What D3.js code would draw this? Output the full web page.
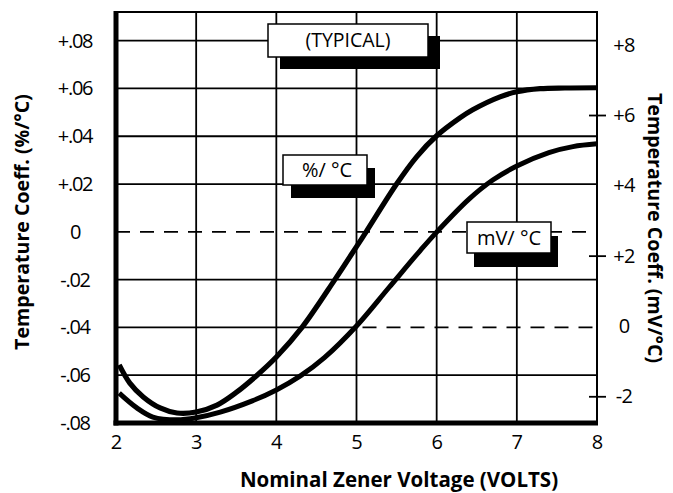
<!DOCTYPE html>
<html>
<head>
<meta charset="utf-8">
<script src="https://cdn.jsdelivr.net/npm/d3@7"></script>
<style>
  html, body { margin: 0; padding: 0; background: #fff; }
  svg { display: block; }
  text { font-family: "Open Sans", "DejaVu Sans", sans-serif; fill: #000; }
</style>
</head>
<body>
<svg id="chart" width="673" height="493"></svg>
<script>
// ---- data ----
const xTicks = [2, 3, 4, 5, 6, 7, 8];
const leftTicks = [-0.08, -0.06, -0.04, -0.02, 0, 0.02, 0.04, 0.06, 0.08];
const leftTickLabels = ["-.08", "-.06", "-.04", "-.02", "0", "+.02", "+.04", "+.06", "+.08"];
const rightTicks = [-2, 0, 2, 4, 6, 8];
const rightTickLabels = ["-2", "0", "+2", "+4", "+6", "+8"];
const rightTickMarks = [-2, 2, 6];

// %/°C curve (left axis)
const pctVolts = [2.04, 2.17, 2.34, 2.55, 2.76, 3.0, 3.26, 3.5, 3.76, 4.0, 4.32, 4.73, 5.0, 5.12, 5.5, 5.75, 6.0, 6.29, 6.45, 6.79, 7.0, 7.29, 7.6, 8.0];
const pctValues = [-0.0557, -0.0632, -0.0691, -0.0737, -0.0758, -0.0754, -0.0725, -0.0672, -0.06, -0.0524, -0.04, -0.02, -0.0062, 0.0, 0.02, 0.0314, 0.0402, 0.0477, 0.0511, 0.0565, 0.0586, 0.0599, 0.0602, 0.0603];

// mV/°C curve (right axis)
const mvVolts = [2.04, 2.26, 2.46, 2.76, 3.0, 3.3, 3.7, 4.0, 4.3, 4.6, 5.0, 5.4, 5.8, 6.0, 6.4, 6.7, 7.0, 7.4, 7.7, 8.0];
const mvValues = [-1.91, -2.33, -2.59, -2.67, -2.61, -2.45, -2.13, -1.82, -1.42, -0.9, 0.0, 1.08, 2.16, 2.67, 3.6, 4.15, 4.55, 4.93, 5.1, 5.18];

const labelTexts = ["(TYPICAL)", "%/ \u00B0C", "mV/ \u00B0C"];

// ---- layout ----
const svg = d3.select("#chart");
const L = 116, R = 597, T = 12, B = 423;

const x = d3.scaleLinear().domain([2, 8]).range([L, R]);
const yL = d3.scaleLinear().domain([-0.08, 0.092]).range([B, T]);
const yR = d3.scaleLinear().domain([-2.76, 8.93]).range([B, T]);

svg.append("rect").attr("width", 673).attr("height", 493).attr("fill", "#fff");

// grid: vertical
const grid = svg.append("g").attr("stroke", "#000").attr("stroke-width", 1.8);
grid.selectAll("line.v").data(xTicks.filter(d => d > 2 && d < 8)).join("line")
  .attr("x1", d => x(d)).attr("x2", d => x(d)).attr("y1", T).attr("y2", B);

// grid: horizontal (solid ones)
grid.selectAll("line.h").data(leftTicks.filter(d => d > -0.08 && d !== 0 && d !== -0.04)).join("line")
  .attr("x1", L).attr("x2", R).attr("y1", d => yL(d)).attr("y2", d => yL(d));

// 0 line dashed
grid.append("line").attr("x1", L).attr("x2", R).attr("y1", yL(0)).attr("y2", yL(0))
  .attr("stroke-dasharray", "14,10");
// -0.04 line: solid up to 5 V, dashed after
grid.append("line").attr("x1", L).attr("x2", x(5)).attr("y1", yL(-0.04)).attr("y2", yL(-0.04));
grid.append("line").attr("x1", x(5)).attr("x2", R).attr("y1", yL(-0.04)).attr("y2", yL(-0.04))
  .attr("stroke-dasharray", "14,10").attr("stroke-dashoffset", -6);

// frame
svg.append("line").attr("x1", L - 1).attr("x2", R + 1).attr("y1", T).attr("y2", T)
  .attr("stroke", "#000").attr("stroke-width", 2);
svg.append("line").attr("x1", R).attr("x2", R).attr("y1", T).attr("y2", B)
  .attr("stroke", "#000").attr("stroke-width", 2);

// right tick marks
svg.append("g").attr("transform", `translate(${R},0)`)
  .call(d3.axisRight(yR).tickValues(rightTickMarks).tickSize(9).tickFormat(""))
  .call(g => g.select(".domain").remove())
  .call(g => g.selectAll(".tick line").attr("x1", -8).attr("stroke-width", 1.8));

// curves
const line = d3.line().curve(d3.curveCatmullRom.alpha(0.5));
const pctPts = pctVolts.map((v, i) => [x(v), yL(pctValues[i])]);
const mvPts = mvVolts.map((v, i) => [x(v), yR(mvValues[i])]);
svg.append("path").attr("d", line(mvPts)).attr("fill", "none").attr("stroke", "#000")
  .attr("stroke-width", 5).attr("stroke-linecap", "butt");
svg.append("path").attr("d", line(pctPts)).attr("fill", "none").attr("stroke", "#000")
  .attr("stroke-width", 5.2).attr("stroke-linecap", "butt");

// thick left & bottom axes lines
svg.append("line").attr("x1", L).attr("x2", L).attr("y1", T - 1).attr("y2", B + 2.5)
  .attr("stroke", "#000").attr("stroke-width", 5);
svg.append("line").attr("x1", L - 2.5).attr("x2", R + 1).attr("y1", B).attr("y2", B)
  .attr("stroke", "#000").attr("stroke-width", 5);

// axes labels via d3 axes (no tick lines)
const xAxis = svg.append("g").attr("transform", `translate(0,${B})`)
  .call(d3.axisBottom(x).tickValues(xTicks).tickSize(0).tickPadding(12).tickFormat(d3.format("d")));
xAxis.select(".domain").remove();
xAxis.selectAll("text").attr("font-size", 20).attr("font-family", "'Open Sans', sans-serif");

const leftAxis = svg.append("g").attr("transform", `translate(75,0)`)
  .call(d3.axisLeft(yL).tickValues(leftTicks).tickSize(0).tickPadding(0)
    .tickFormat((d, i) => leftTickLabels[i]));
leftAxis.select(".domain").remove();
leftAxis.selectAll("text").attr("text-anchor", "middle").attr("font-size", 20)
  .attr("letter-spacing", -1.3).attr("font-family", "'Open Sans', sans-serif");

const rightAxis = svg.append("g").attr("transform", `translate(624,0)`)
  .call(d3.axisRight(yR).tickValues(rightTicks).tickSize(0).tickPadding(0)
    .tickFormat((d, i) => rightTickLabels[i]));
rightAxis.select(".domain").remove();
rightAxis.selectAll("text").attr("text-anchor", "middle").attr("font-size", 20)
  .attr("letter-spacing", -0.8).attr("font-family", "'Open Sans', sans-serif");

// axis titles
svg.append("text").attr("x", 399).attr("y", 487).attr("text-anchor", "middle")
  .attr("font-size", 20.5).attr("font-weight", "bold").text("Nominal Zener Voltage (VOLTS)");
svg.append("text").attr("transform", "translate(29,222) rotate(-90)").attr("text-anchor", "middle")
  .attr("font-size", 19.6).attr("font-weight", "bold").text("Temperature Coeff. (%/\u00B0C)");
svg.append("text").attr("transform", "translate(648,228) rotate(90)").attr("text-anchor", "middle")
  .attr("font-size", 19.6).attr("font-weight", "bold").text("Temperature Coeff. (mV/\u00B0C)");

// annotation boxes with drop shadows
const boxes = [
  { t: labelTexts[0], bx: 268, by: 24, w: 160, h: 33, dx: 12, dy: 12, tx: 348, ty: 47, fs: 19.5 },
  { t: labelTexts[1], bx: 283, by: 155, w: 84, h: 30, dx: 8, dy: 13, tx: 327, ty: 177, fs: 20 },
  { t: labelTexts[2], bx: 467, by: 222, w: 84, h: 31, dx: 7, dy: 14, tx: 509, ty: 245, fs: 20 }
];
const bg = svg.append("g").selectAll("g").data(boxes).join("g");
bg.append("rect").attr("x", d => d.bx + d.dx).attr("y", d => d.by + d.dy)
  .attr("width", d => d.w).attr("height", d => d.h).attr("fill", "#000");
bg.append("rect").attr("x", d => d.bx).attr("y", d => d.by)
  .attr("width", d => d.w).attr("height", d => d.h).attr("fill", "#fff")
  .attr("stroke", "#000").attr("stroke-width", 1.5);
bg.append("text").attr("x", d => d.tx).attr("y", d => d.ty).attr("text-anchor", "middle")
  .attr("font-size", d => d.fs).text(d => d.t);
</script>
</body>
</html>
